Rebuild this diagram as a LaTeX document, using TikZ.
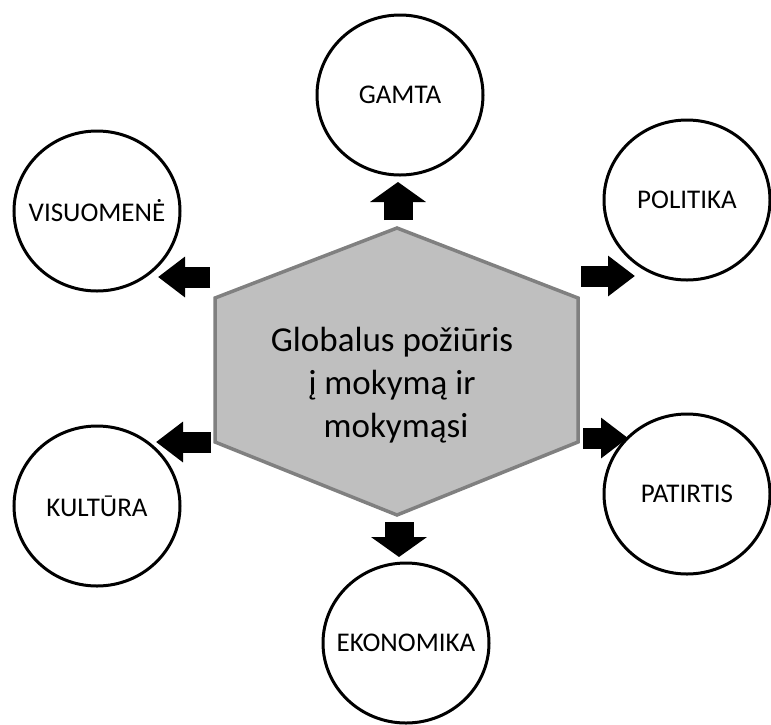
\documentclass[tikz,border=0pt]{standalone}
\usepackage{fontspec}
\setmainfont{Carlito}
\usetikzlibrary{arrows.meta,shapes.geometric}
\tikzset{
	topic/.style={ellipse,draw,line width=3pt,minimum width=166pt,minimum height=160pt,inner sep=0pt,font=\fontsize{27}{32}\selectfont},
	varr/.style={line width=29pt,-{Triangle[width=55pt,length=20pt]}},
	harr/.style={line width=21pt,-{Triangle[width=39pt,length=27pt]}}
}
\begin{document}
\begin{tikzpicture}[x=1pt,y=-1pt]
		\useasboundingbox(0,0)rectangle(771,724);
		% hexagon
		\coordinate(H1)at(397,228);
		\coordinate(H2)at(578,298);
		\coordinate(H3)at(578,442);
		\coordinate(H4)at(397,515);
		\coordinate(H5)at(215,442);
		\coordinate(H6)at(215,298);
		\draw[line width=3.5pt,draw=black!50,fill=black!25,line join=miter](H1)--(H2)--(H3)--(H4)--(H5)--(H6)--cycle;
		\node[align=center,font=\fontsize{35}{43}\selectfont](C)at(392,385){Globalus požiūris\\į mokymą ir\\\ mokymąsi};
		% circles
		\node[topic](gamta)at(400,95){\clap{GAMTA}};
		\node[topic](visuomene)at(97,211){\clap{VISUOMENĖ}};
		\node[topic](politika)at(687,200){\clap{POLITIKA}};
		\node[topic](kultura)at(97,506){\clap{KULTŪRA}};
		\node[topic](patirtis)at(687,494){\clap{PATIRTIS}};
		\node[topic](ekonomika)at(406,643){\clap{EKONOMIKA}};
		% arrows
		\coordinate(A1)at(398,220);\coordinate(B1)at(398,182);
		\coordinate(A2)at(210,277);\coordinate(B2)at(158,277);
		\coordinate(A3)at(581,276);\coordinate(B3)at(635,276);
		\coordinate(A4)at(211,442);\coordinate(B4)at(156,442);
		\coordinate(A5)at(583,438);\coordinate(B5)at(628,438);
		\coordinate(A6)at(399,522);\coordinate(B6)at(399,557);
		\draw[varr](A1)--(B1);
		\draw[varr](A6)--(B6);
		\foreach \j in {2,...,5} {
			\draw[harr](A\j)--(B\j);
		}
	\end{tikzpicture}
\end{document}
